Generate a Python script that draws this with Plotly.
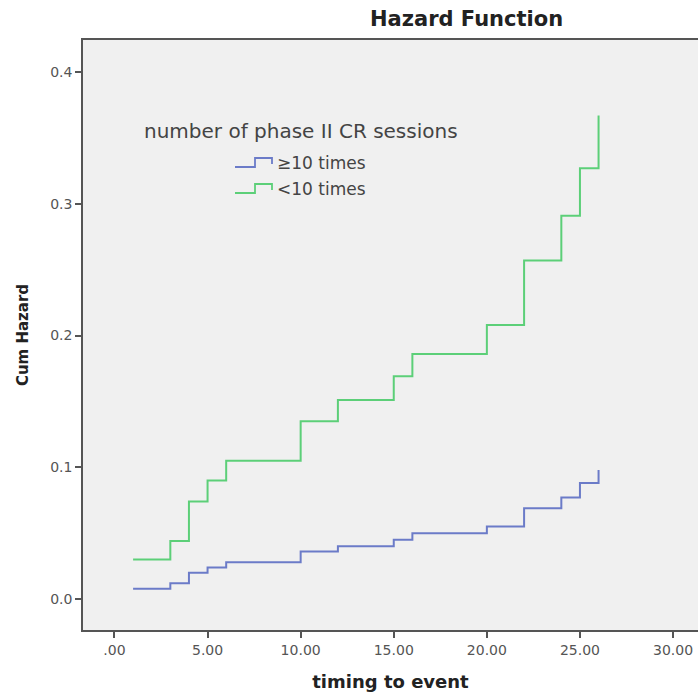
import plotly.graph_objects as go

# Data
times = [1, 3, 4, 5, 6, 10, 12, 15, 16, 20, 22, 24, 25, 26]
haz_ge10 = [0.0078, 0.012, 0.020, 0.024, 0.028, 0.036, 0.040, 0.045, 0.050, 0.055, 0.069, 0.077, 0.088, 0.098]
haz_lt10 = [0.030, 0.044, 0.074, 0.090, 0.105, 0.135, 0.151, 0.169, 0.186, 0.208, 0.257, 0.291, 0.327, 0.367]
series_names = ["≥10 times", "<10 times"]
series_colors = ["#6b7bc8", "#5ccf78"]

x_tickvals = [0, 5, 10, 15, 20, 25, 30]
x_ticktext = [".00", "5.00", "10.00", "15.00", "20.00", "25.00", "30.00"]
y_tickvals = [0.0, 0.1, 0.2, 0.3, 0.4]
y_ticktext = ["0.0", "0.1", "0.2", "0.3", "0.4"]

fig = go.Figure()
for name, vals, col in zip(series_names, [haz_ge10, haz_lt10], series_colors):
    fig.add_trace(go.Scatter(x=times, y=vals, mode="lines", name=name,
                             line=dict(color=col, width=2, shape="hv"),
                             showlegend=False))

W, H = 698, 696
L, R, T, B = 83, 0, 40, 66

fig.update_layout(
    width=W, height=H,
    margin=dict(l=L, r=R, t=T, b=B),
    paper_bgcolor="white", plot_bgcolor="#f0f0f0",
    font=dict(family="DejaVu Sans", color="#444"),
    xaxis=dict(range=[-1.69, 31.34], tickvals=x_tickvals, ticktext=x_ticktext,
               showgrid=False, zeroline=False, showline=True, mirror=True,
               linecolor="#555", linewidth=1.5, ticks="outside", ticklen=6,
               tickcolor="#555", tickwidth=1.5,
               tickfont=dict(family="DejaVu Sans", size=14, color="#555"),
               title=dict(text="<b>timing to event</b>", standoff=19,
                          font=dict(family="DejaVu Sans", size=18, color="#222"))),
    yaxis=dict(range=[-0.0235, 0.4243], tickvals=y_tickvals, ticktext=y_ticktext,
               showgrid=False, zeroline=False, showline=True, mirror=False,
               linecolor="#555", linewidth=1.5, ticks="outside", ticklen=6,
               tickcolor="#555", tickwidth=1.5,
               tickfont=dict(family="DejaVu Sans", size=14, color="#555"),
               title=dict(text="<b>Cum Hazard</b>", standoff=18,
                          font=dict(family="DejaVu Sans", size=15, color="#222"))),
)

pw = W - L - R
def px(xp):
    return (xp - L) / pw
ph = H - T - B
def py(yp):
    return (H - B - yp) / ph

fig.add_annotation(x=px(466), y=1, yref="paper", xref="paper", yanchor="bottom",
                   yshift=7, showarrow=False,
                   text="<b>Hazard Function</b>",
                   font=dict(family="DejaVu Sans", size=21, color="#222"))

# Legend (custom, inside plot)
fig.add_annotation(x=px(142), y=py(131), xref="paper", yref="paper",
                   xanchor="left", yanchor="middle", showarrow=False,
                   text="number of phase II CR sessions",
                   font=dict(family="DejaVu Sans", size=20, color="#444"))
for i, (name, col) in enumerate(zip(series_names, series_colors)):
    yc = 163 + i * 26
    x0, xm, x1 = 235, 255, 272
    ylo, yhi = yc + 4, yc - 5
    path = f"M {px(x0)} {py(ylo)} L {px(xm)} {py(ylo)} L {px(xm)} {py(yhi)} L {px(x1)} {py(yhi)} L {px(x1)} {py(yc+1)}"
    fig.add_shape(type="path", path=path, xref="paper", yref="paper",
                  line=dict(color=col, width=1.8))
    fig.add_annotation(x=px(275), y=py(yc), xref="paper", yref="paper",
                       xanchor="left", yanchor="middle", showarrow=False,
                       text=name, font=dict(family="DejaVu Sans", size=17, color="#444"))

fig.write_html("out.html")
